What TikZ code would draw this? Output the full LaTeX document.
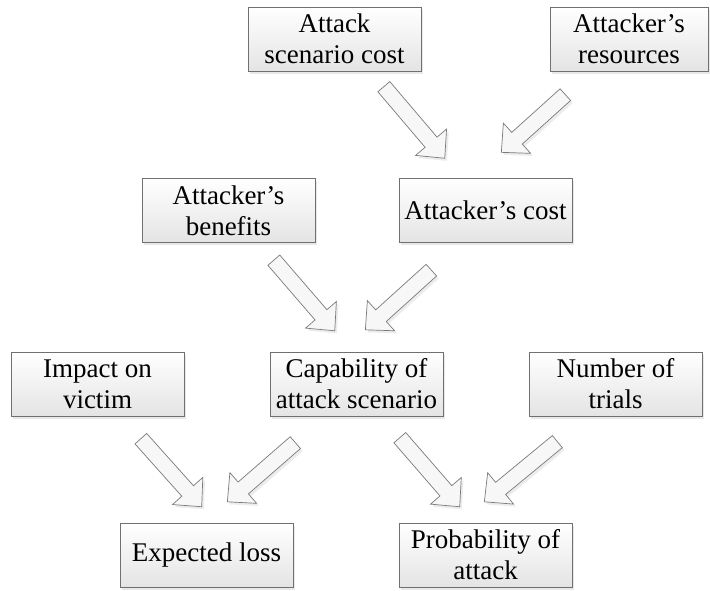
\documentclass[tikz,border=0pt]{standalone}
\usepackage{fontspec}
\setmainfont{Liberation Serif}
\usetikzlibrary{shapes.arrows,shadows,calc}

\definecolor{boxline}{HTML}{707070}
\definecolor{arrline}{HTML}{7A7A7A}
\definecolor{boxbottom}{HTML}{E4E4E4}

\tikzset{
  factor/.style={rectangle, draw=boxline, line width=0.8pt,
    top color=white, bottom color=boxbottom,
    minimum width=173pt, minimum height=64pt, inner sep=0pt,
    align=center, text=black,
    font=\fontsize{27}{31}\selectfont,
    drop shadow={shadow xshift=2.2pt, shadow yshift=-2.6pt, fill=black!18}},
  flowarrow/.style={single arrow, draw=arrline, line width=0.7pt,
    fill=black!3, inner xsep=0pt, inner ysep=7.5pt,
    single arrow head extend=12.5pt, single arrow tip angle=88,
    anchor=tail,
    drop shadow={shadow xshift=2.2pt, shadow yshift=-2.6pt, fill=black!15}}
}

% block arrow from a tail coordinate to a tip coordinate
\newcommand\blockarrow[2]{%
  \path let \p1=($(#2)-(#1)$), \n1={veclen(\x1,\y1)}, \n2={atan2(\y1,\x1)} in
    node[flowarrow, minimum height=\n1, rotate=\n2] at (#1) {};}

\begin{document}
\begin{tikzpicture}[x=1pt, y=-1pt]
\useasboundingbox (0,0) rectangle (710,590);

% factors
\node[factor] (asc)   at (334.5,39)  {Attack\\scenario cost};
\node[factor, minimum width=158pt] (res) at (629,39) {Attacker’s\\resources};
\node[factor] (ben)   at (228.5,210.5) {Attacker’s\\benefits};
\node[factor] (acost) at (485.5,210.5) {Attacker’s cost};
\node[factor] (imp)   at (97.5,384)  {Impact on\\victim};
\node[factor] (cap)   at (356.5,384) {Capability of\\attack scenario};
\node[factor] (num)   at (615.5,384) {Number of\\trials};
\node[factor] (exp)   at (206.5,555) {Expected loss};
\node[factor] (prob)  at (485.5,555) {Probability of\\attack};

% arrow end points
\coordinate (a1s) at ($(asc.south west)+(136,15)$);
\coordinate (a1t) at ($(acost.north west)+(46,-20)$);
\coordinate (a2s) at ($(res.south west)+(16,23)$);
\coordinate (a2t) at ($(acost.north west)+(103,-26)$);
\coordinate (a3s) at ($(ben.south west)+(132,17)$);
\coordinate (a3t) at ($(cap.north west)+(65,-21)$);
\coordinate (a4s) at ($(acost.south west)+(33,27)$);
\coordinate (a4t) at ($(cap.north west)+(96,-22)$);
\coordinate (a5s) at ($(imp.south west)+(130,22)$);
\coordinate (a5t) at ($(exp.north west)+(82,-16)$);
\coordinate (a6s) at ($(cap.south west)+(26,26)$);
\coordinate (a6t) at ($(exp.north west)+(108,-21)$);
\coordinate (a7s) at ($(cap.south west)+(130,21)$);
\coordinate (a7t) at ($(prob.north west)+(61,-16)$);
\coordinate (a8s) at ($(num.south west)+(29,25)$);
\coordinate (a8t) at ($(prob.north west)+(86,-21)$);

% arrows
\blockarrow{a1s}{a1t}
\blockarrow{a2s}{a2t}
\blockarrow{a3s}{a3t}
\blockarrow{a4s}{a4t}
\blockarrow{a5s}{a5t}
\blockarrow{a6s}{a6t}
\blockarrow{a7s}{a7t}
\blockarrow{a8s}{a8t}
\end{tikzpicture}
\end{document}
